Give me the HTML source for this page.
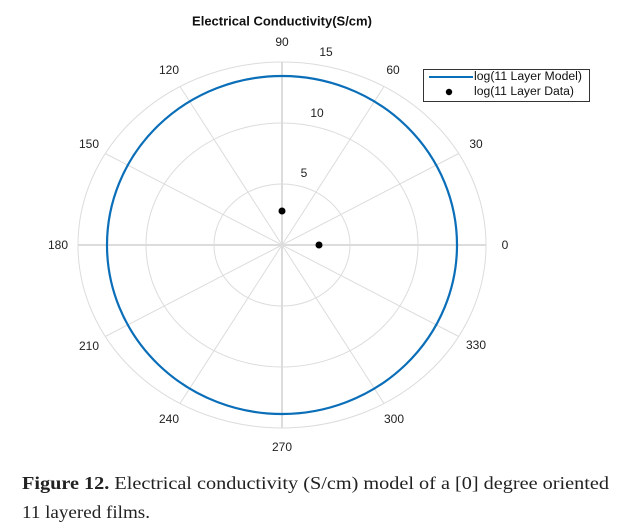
<!DOCTYPE html>
<html><head><meta charset="utf-8"><style>
body{margin:0;background:#fff;}
svg{display:block;}
.t{font-family:"Liberation Sans",Arial,sans-serif;font-size:12px;fill:#222;text-anchor:middle;dominant-baseline:central;}
</style></head><body>
<svg width="639" height="532" viewBox="0 0 639 532" xmlns="http://www.w3.org/2000/svg">
<rect width="639" height="532" fill="#fff"/>
<text x="282" y="21" font-family="Liberation Sans,Arial,sans-serif" font-size="13" font-weight="bold" text-anchor="middle" dominant-baseline="central" fill="#111">Electrical Conductivity(S/cm)</text>
<g fill="none" stroke="#dcdcdc" stroke-width="1">
<ellipse cx="282" cy="245" rx="68" ry="61"/>
<ellipse cx="282" cy="245" rx="136" ry="122"/>
<ellipse cx="282" cy="245" rx="204" ry="183"/>
<line x1="78" y1="245" x2="486" y2="245" stroke-width="2"/>
<line x1="282" y1="62" x2="282" y2="428" stroke-width="2"/>
<line x1="458.7" y1="153.5" x2="105.3" y2="336.5"/>
<line x1="384" y1="86.5" x2="180" y2="403.5"/>
<line x1="180" y1="86.5" x2="384" y2="403.5"/>
<line x1="105.3" y1="153.5" x2="458.7" y2="336.5"/>
</g>
<ellipse cx="282" cy="245" rx="175" ry="169" fill="none" stroke="#0a6eb8" stroke-width="2.2"/>
<circle cx="282" cy="211" r="3.5" fill="#000"/>
<circle cx="319" cy="245" r="3.5" fill="#000"/>
<text class="t" x="505" y="245">0</text>
<text class="t" x="476" y="144">30</text>
<text class="t" x="393" y="70">60</text>
<text class="t" x="282" y="42">90</text>
<text class="t" x="169" y="70">120</text>
<text class="t" x="89" y="144">150</text>
<text class="t" x="58" y="245">180</text>
<text class="t" x="89" y="346">210</text>
<text class="t" x="169" y="419">240</text>
<text class="t" x="282" y="447">270</text>
<text class="t" x="394" y="419">300</text>
<text class="t" x="476" y="345">330</text>
<text class="t" x="304" y="173">5</text>
<text class="t" x="317" y="113">10</text>
<text class="t" x="326" y="52">15</text>
<rect x="423.5" y="69.5" width="166" height="32" fill="#fff" stroke="#333" stroke-width="1"/>
<line x1="429" y1="77" x2="473" y2="77" stroke="#0a6eb8" stroke-width="2"/>
<circle cx="449" cy="92" r="3.2" fill="#000"/>
<text x="474" y="77" font-family="Liberation Sans,Arial,sans-serif" font-size="11.5" dominant-baseline="central" fill="#111" textLength="108" lengthAdjust="spacingAndGlyphs">log(11 Layer Model)</text>
<text x="474" y="92" font-family="Liberation Sans,Arial,sans-serif" font-size="11.5" dominant-baseline="central" fill="#111" textLength="100" lengthAdjust="spacingAndGlyphs">log(11 Layer Data)</text>
<text x="22" y="489" font-family="Liberation Serif,serif" font-size="18" fill="#222" textLength="587" lengthAdjust="spacingAndGlyphs"><tspan font-weight="bold">Figure 12.</tspan> Electrical conductivity (S/cm) model of a [0] degree oriented</text>
<text x="22" y="518" font-family="Liberation Serif,serif" font-size="18" fill="#222" textLength="128" lengthAdjust="spacingAndGlyphs">11 layered films.</text>
</svg>
</body></html>
